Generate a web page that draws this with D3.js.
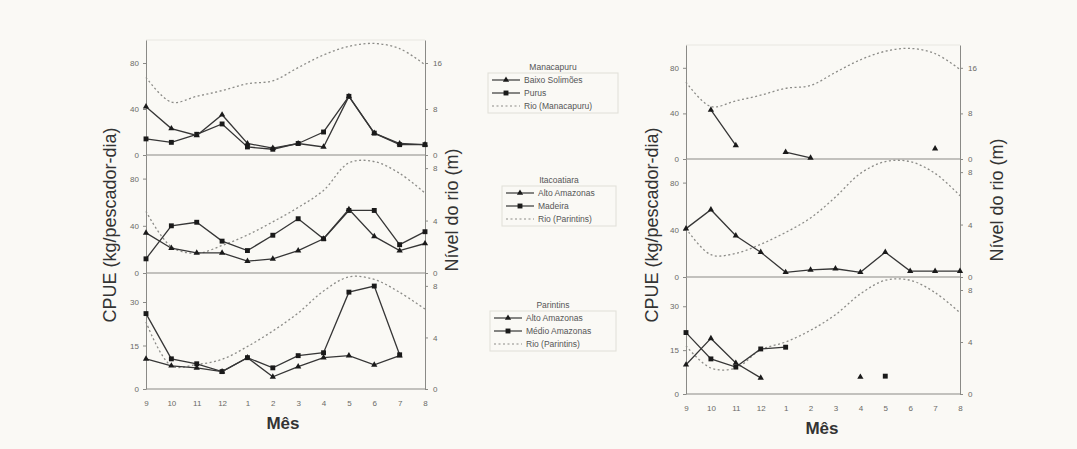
<!DOCTYPE html>
<html>
<head>
<meta charset="utf-8">
<script src="https://cdn.jsdelivr.net/npm/d3@7"></script>
<style>
body { margin: 0; background: #faf9f5; }
svg { display: block; font-family: "Liberation Sans", Arial, sans-serif; }
.axis path, .axis line { stroke: #8a8a86; }
.axis text { fill: #6a6a66; font-size: 8px; }
.legend text { fill: #555; font-size: 8.5px; }
</style>
</head>
<body>
<svg id="chart" width="1077" height="449"></svg>
<script>
// month order of the hydrological year
var months = ["9", "10", "11", "12", "1", "2", "3", "4", "5", "6", "7", "8"];

// Manacapuru (CPUE, kg/pescador-dia)
var baixoSolimoes = [42, 23, 17, 35, 10, 6, 10, 7, 51, 19, 10, 9];
var purus = [14, 11, 18, 27, 7, 5, 10, 20, 51, 19, 9, 9];
var baixoSolimoesB = [null, 43, 12, null, 6, 1, null, null, null, null, 9, null];
// river level (m)
var rioManacapuru = [13.5, 9.2, 10.2, 11.2, 12.4, 12.9, 15.2, 17.4, 18.9, 19.4, 18.5, 15.7];

// Itacoatiara
var altoAmazonasIta = [34, 21, 17, 17, 10, 12, 19, 29, 54, 31, 19, 25];
var madeira = [12, 40, 43, 27, 19, 32, 46, 29, 53, 53, 24, 35];
var altoAmazonasItaB = [41, 57, 35, 21, 4, 6, 7, 4, 21, 5, 5, 5];
var rioParintinsIta = [4.7, 2.0, 1.5, 2.1, 2.9, 3.9, 5.0, 6.3, 8.4, 8.5, 7.6, 6.1];
var rioParintinsItaB = [3.7, 1.7, 1.8, 2.5, 3.4, 4.5, 6.1, 7.9, 8.8, 8.8, 7.9, 6.2];

// Parintins
var altoAmazonasPar = [10.4, 8, 7.3, 6, 10.8, 4.2, 7.7, 10.8, 11.5, 8.3, 11.5, null];
var medioAmazonas = [26, 10.4, 8.7, 6, 10.8, 7.3, 11.5, 12.5, 33.4, 35.5, 11.8, null];
var altoAmazonasParB = [10, 19, 10.6, 5.5, null, null, null, 5.8, null, null, null, null];
var medioAmazonasB = [21, 12, 9.2, 15.4, 16, null, null, null, 6.1, null, null, null];
var rioParintinsPar = [5.2, 1.8, 1.9, 2.3, 3.3, 4.5, 5.9, 7.6, 8.7, 8.5, 7.5, 6.2];
var rioParintinsParB = [3.7, 2.0, 2.0, 3.4, 4.0, 4.9, 6.1, 7.7, 8.75, 8.75, 7.8, 6.25];

var svg = d3.select( "#chart" );

var sides = [
  {
    x : [ 146 , 425 ], cpueX : 116, rioX : 458, rioY : 210, mesX : 283, mesY : 429,
    panels : [
      { y : [ 155 , 40 ], cpue : [ 0 , 100 ], cTicks : [ 0 , 40 , 80 ], rio : [ 0 , 20 ], rTicks : [ 0 , 8 , 16 ],
        a : baixoSolimoes, b : purus, river : rioManacapuru },
      { y : [ 273 , 155 ], cpue : [ 0 , 100 ], cTicks : [ 0 , 40 , 80 ], rio : [ 0 , 9 ], rTicks : [ 0 , 4 , 8 ],
        a : altoAmazonasIta, b : madeira, river : rioParintinsIta },
      { y : [ 389 , 273 ], cpue : [ 0 , 40 ], cTicks : [ 0 , 15 , 30 ], rio : [ 0 , 9 ], rTicks : [ 0 , 4 , 8 ],
        a : altoAmazonasPar, b : medioAmazonas, river : rioParintinsPar }
    ]
  },
  {
    x : [ 686 , 960 ], cpueX : 658, rioX : 1003, rioY : 200, mesX : 822, mesY : 434,
    panels : [
      { y : [ 159 , 45 ], cpue : [ 0 , 100 ], cTicks : [ 0 , 40 , 80 ], rio : [ 0 , 20 ], rTicks : [ 0 , 8 , 16 ],
        a : baixoSolimoesB, b : null, river : rioManacapuru },
      { y : [ 277 , 159 ], cpue : [ 0 , 100 ], cTicks : [ 0 , 40 , 80 ], rio : [ 0 , 9 ], rTicks : [ 0 , 4 , 8 ],
        a : altoAmazonasItaB, b : null, river : rioParintinsItaB },
      { y : [ 394 , 277 ], cpue : [ 0 , 40 ], cTicks : [ 0 , 15 , 30 ], rio : [ 0 , 9 ], rTicks : [ 0 , 4 , 8 ],
        a : altoAmazonasParB, b : medioAmazonasB, river : rioParintinsParB }
    ]
  }
];

var triangle = d3.symbol().type( d3.symbolTriangle ).size( 17 );
var square = d3.symbol().type( d3.symbolSquare ).size( 24 );

function drawSeries( g , x , y , values , sym ) {
  var pts = values.map( function( v , i ) { return { m : months[ i ] , v : v }; } );
  var line = d3.line()
               .defined( function( d ) { return d.v != null; } )
               .x( function( d ) { return x( d.m ); } )
               .y( function( d ) { return y( d.v ); } );
  g.append( "path" ).datum( pts )
   .attr( "d" , line ).attr( "fill" , "none" )
   .attr( "stroke" , "#363636" ).attr( "stroke-width" , 1.3 );
  g.selectAll( null ).data( pts.filter( function( d ) { return d.v != null; } ) )
   .enter().append( "path" )
   .attr( "d" , sym )
   .attr( "transform" , function( d ) { return "translate(" + x( d.m ) + "," + y( d.v ) + ")"; } )
   .attr( "fill" , "#1a1a1a" );
}

sides.forEach( function( side ) {
  var x = d3.scalePoint().domain( months ).range( side.x );

  side.panels.forEach( function( p , i ) {
    var g = svg.append( "g" );
    var y = d3.scaleLinear().domain( p.cpue ).range( p.y );
    var yr = d3.scaleLinear().domain( p.rio ).range( p.y );

    if( i === 0 ) {
      g.append( "line" ).attr( "x1" , side.x[0] ).attr( "x2" , side.x[1] )
       .attr( "y1" , p.y[1] ).attr( "y2" , p.y[1] ).attr( "stroke" , "#e8e7e1" );
    }
    g.append( "line" ).attr( "x1" , side.x[0] ).attr( "x2" , side.x[1] )
     .attr( "y1" , p.y[0] ).attr( "y2" , p.y[0] ).attr( "stroke" , "#8a8a86" ).attr( "stroke-width" , 1.2 );

    g.append( "g" ).attr( "class" , "axis" ).attr( "transform" , "translate(" + side.x[0] + ",0)" )
     .call( d3.axisLeft( y ).tickValues( p.cTicks ).tickSize( 3 ).tickSizeOuter( 0 ).tickPadding( 4 ) );
    g.append( "g" ).attr( "class" , "axis" ).attr( "transform" , "translate(" + side.x[1] + ",0)" )
     .call( d3.axisRight( yr ).tickValues( p.rTicks ).tickSize( 3 ).tickSizeOuter( 0 ).tickPadding( 5 ) );

    // river level, dotted
    var rpts = p.river.map( function( v , k ) { return { m : months[ k ] , v : v }; } );
    g.append( "path" ).datum( rpts )
     .attr( "d" , d3.line().curve( d3.curveCatmullRom.alpha( 0.5 ) )
                   .x( function( d ) { return x( d.m ); } )
                   .y( function( d ) { return yr( d.v ); } ) )
     .attr( "fill" , "none" ).attr( "stroke" , "#8c8c88" )
     .attr( "stroke-width" , 1.3 ).attr( "stroke-dasharray" , "2,2.5" );

    if( p.b ) drawSeries( g , x , y , p.b , square );
    if( p.a ) drawSeries( g , x , y , p.a , triangle );
  } );

  var last = side.panels[ 2 ].y[ 0 ];
  svg.append( "g" ).attr( "class" , "axis" ).attr( "transform" , "translate(0," + last + ")" )
     .call( d3.axisBottom( x ).tickSize( 0 ).tickPadding( 11 ) )
     .select( ".domain" ).remove();

  svg.append( "text" ).attr( "transform" , "translate(" + side.cpueX + ",225) rotate(-90)" )
     .attr( "text-anchor" , "middle" ).attr( "font-size" , 18 ).attr( "fill" , "#333" )
     .text( "CPUE (kg/pescador-dia)" );
  svg.append( "text" ).attr( "transform" , "translate(" + side.rioX + "," + side.rioY + ") rotate(-90)" )
     .attr( "text-anchor" , "middle" ).attr( "font-size" , 18 ).attr( "fill" , "#333" )
     .text( "Nível do rio (m)" );
  svg.append( "text" ).attr( "x" , side.mesX ).attr( "y" , side.mesY )
     .attr( "text-anchor" , "middle" ).attr( "font-size" , 17 ).attr( "font-weight" , "bold" )
     .attr( "fill" , "#333" ).text( "Mês" );
} );

// legends
var legends = [
  { title : "Manacapuru", x : 488, y : 67, w : 130, names : [ "Baixo Solimões" , "Purus" , "Rio (Manacapuru)" ] },
  { title : "Itacoatiara", x : 502, y : 180, w : 114, names : [ "Alto Amazonas" , "Madeira" , "Rio (Parintins)" ] },
  { title : "Parintins", x : 490, y : 305, w : 126, names : [ "Alto Amazonas" , "Médio Amazonas" , "Rio (Parintins)" ] }
];

legends.forEach( function( l ) {
  var g = svg.append( "g" ).attr( "class" , "legend" );
  g.append( "text" ).attr( "x" , l.x + l.w / 2 ).attr( "y" , l.y + 3 )
   .attr( "text-anchor" , "middle" ).attr( "font-size" , "10px" ).text( l.title );
  g.append( "rect" ).attr( "x" , l.x ).attr( "y" , l.y + 6 ).attr( "width" , l.w ).attr( "height" , 40 )
   .attr( "fill" , "none" ).attr( "stroke" , "#e0dfd8" );
  l.names.forEach( function( n , i ) {
    var cy = l.y + 13 + i * 13;
    var x0 = l.x + 4;
    g.append( "line" ).attr( "x1" , x0 ).attr( "x2" , x0 + 28 ).attr( "y1" , cy ).attr( "y2" , cy )
     .attr( "stroke" , i === 2 ? "#8c8c88" : "#363636" ).attr( "stroke-width" , 1.2 )
     .attr( "stroke-dasharray" , i === 2 ? "2,2.5" : null );
    if( i < 2 ) {
      g.append( "path" ).attr( "d" , i === 0 ? triangle : square )
       .attr( "transform" , "translate(" + ( x0 + 14 ) + "," + cy + ")" ).attr( "fill" , "#1a1a1a" );
    }
    g.append( "text" ).attr( "x" , x0 + 32 ).attr( "y" , cy + 3 ).text( n );
  } );
} );
</script>
</body>
</html>
